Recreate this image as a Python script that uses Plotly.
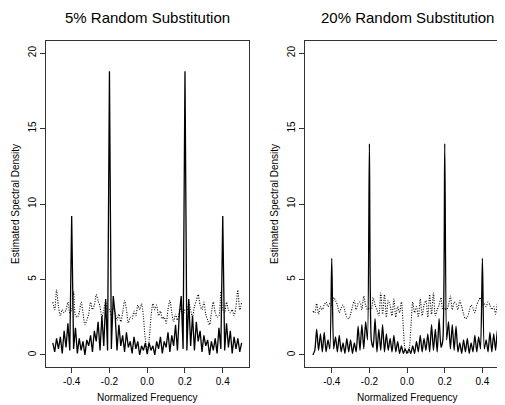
import plotly.graph_objects as go

# normalized frequency grid, -0.5 .. 0.5 in steps of 0.01
freq = [round(-0.5 + 0.01 * i, 2) for i in range(101)]

# 5% random substitution: solid and dotted spectra
sub5_solid = [
    0.8, 0.2, 1.1, 0.4, 1.2, 0.1, 1.6, 0.5, 2.1, 0.3,
    9.2, 0.4, 1.8, 0.1, 1.1, 0.3, 0.9, 0.0, 1.0, 0.6,
    1.3, 0.2, 1.6, 0.9, 2.2, 0.3, 2.6, 0.6, 3.7, 0.3,
    18.8, 0.4, 3.9, 2.7, 0.3, 2.0, 0.6, 1.3, 0.2, 1.5,
    0.5, 0.9, 0.1, 1.2, 0.4, 0.9, 0.0, 0.6, 0.3, 0.8,
    0.05,
    0.8, 0.3, 0.6, 0.0, 0.9, 0.4, 1.2, 0.1, 0.9, 0.5,
    1.5, 0.2, 1.3, 0.6, 2.0, 0.3, 2.7, 3.9, 0.4, 18.8,
    0.3, 3.7, 0.6, 2.6, 0.3, 2.2, 0.9, 1.6, 0.2, 1.3,
    0.6, 1.0, 0.0, 0.9, 0.3, 1.1, 0.1, 1.8, 0.4, 9.2,
    0.3, 2.1, 0.5, 1.6, 0.1, 1.2, 0.4, 1.1, 0.2, 0.8,
]
sub5_dotted = [
    3.5, 3.0, 4.3, 3.2, 2.6, 3.0, 2.8, 3.0, 3.5, 2.8,
    3.0, 4.2, 2.6, 2.5, 2.8, 3.5, 2.8, 2.0, 2.3, 2.7,
    3.5, 3.0, 3.3, 4.0, 3.6, 3.2, 2.5, 3.0, 3.5, 2.9,
    3.0, 2.6, 3.1, 2.8, 2.3, 2.7, 2.2, 2.8, 3.6, 3.0,
    2.1, 2.5, 2.4, 2.9, 2.6, 3.3, 3.0, 3.4, 2.5, 1.0,
    0.3,
    1.0, 2.5, 3.4, 3.0, 3.3, 2.6, 2.9, 2.4, 2.5, 2.1,
    3.0, 3.6, 2.8, 2.2, 2.7, 2.3, 2.8, 3.1, 2.6, 3.0,
    2.9, 3.5, 3.0, 2.5, 3.2, 3.6, 4.0, 3.3, 3.0, 3.5,
    2.7, 2.3, 2.0, 2.8, 3.5, 2.8, 2.5, 2.6, 4.2, 3.0,
    2.8, 3.5, 3.0, 2.8, 3.0, 2.6, 3.2, 4.3, 3.0, 3.5,
]

# 20% random substitution
sub20_solid = [
    0.0, 0.3, 1.7, 0.3, 1.4, 0.2, 1.5, 0.2, 1.0, 0.4,
    6.4, 0.4, 1.2, 0.2, 1.3, 0.2, 0.8, 0.1, 1.1, 0.2,
    1.0, 0.1, 0.8, 0.2, 1.9, 0.3, 2.0, 0.4, 2.2, 1.0,
    14.0, 1.0, 0.5, 2.4, 0.2, 1.7, 0.3, 2.0, 0.2, 1.4,
    0.3, 1.1, 0.2, 1.3, 0.2, 0.9, 0.1, 0.6, 0.1, 0.4,
    0.1,
    0.4, 0.1, 0.6, 0.1, 0.9, 0.2, 1.3, 0.2, 1.1, 0.3,
    1.4, 0.2, 2.0, 0.3, 1.7, 0.2, 2.4, 0.5, 1.0, 14.0,
    1.0, 2.2, 0.4, 2.0, 0.3, 1.9, 0.2, 0.8, 0.1, 1.0,
    0.2, 1.1, 0.1, 0.8, 0.2, 1.3, 0.2, 1.2, 0.4, 6.4,
    0.4, 1.0, 0.2, 1.5, 0.2, 1.4, 0.3, 1.7, 0.3, 0.0,
]
sub20_dotted = [
    2.9, 2.8, 3.4, 2.7, 3.2, 3.0, 3.3, 3.5, 3.2, 3.4,
    3.3, 3.8, 3.6, 3.3, 2.8, 3.1, 3.3, 2.9, 2.5, 2.4,
    2.7, 3.2, 3.6, 3.0, 3.4, 3.5, 3.0, 3.9, 3.3, 3.0,
    3.1, 3.0, 3.8, 3.3, 3.0, 2.6, 4.1, 2.7, 4.0, 2.5,
    3.6, 3.3, 2.6, 3.7, 2.5, 3.2, 2.8, 3.5, 1.8, 0.3,
    0.1,
    0.3, 1.8, 3.5, 2.8, 3.2, 2.5, 3.7, 2.6, 3.3, 3.6,
    2.5, 4.0, 2.7, 4.1, 2.6, 3.0, 3.3, 3.8, 3.0, 3.1,
    3.0, 3.3, 3.9, 3.0, 3.5, 3.4, 3.0, 3.6, 3.2, 2.7,
    2.4, 2.5, 2.9, 3.3, 3.1, 2.8, 3.3, 3.6, 3.8, 3.3,
    3.4, 3.2, 3.5, 3.3, 3.0, 3.2, 2.7, 3.4, 2.8, 2.9,
]

titles = ["5% Random Substitution", "20% Random Substitution"]
x_ticks = [-0.4, -0.2, 0.0, 0.2, 0.4]
x_tick_text = ["-0.4", "-0.2", "0.0", "0.2", "0.4"]
y_ticks = [0, 5, 10, 15, 20]

# the page body keeps its 8px margin, so the figure is laid out 8px in
OFF = 8
W, H = 505 - OFF, 405 - OFF
FONT = "Liberation Sans, Arial, Helvetica, sans-serif"

fig = go.Figure()

panels = [
    (sub5_solid, sub5_dotted, "x", "y", "linear"),
    (sub20_solid, sub20_dotted, "x2", "y2", "spline"),
]
for solid, dotted, xa, ya, shape in panels:
    fig.add_trace(go.Scatter(x=freq, y=dotted, mode="lines", xaxis=xa, yaxis=ya,
                             line=dict(color="black", width=1.1, dash="1px,1.5px",
                                       shape="spline", smoothing=0.8),
                             showlegend=False))
    fig.add_trace(go.Scatter(x=freq, y=solid, mode="lines", xaxis=xa, yaxis=ya,
                             line=dict(color="black", width=1.3, shape=shape, smoothing=0.6),
                             showlegend=False))

# plot boxes, in page pixels
box_l = (46 - OFF, 249 - OFF)
box_r = (305 - OFF, 505 - OFF)
box_top, box_bot = 41 - OFF, 367 - OFF

axis_common = dict(showline=True, linecolor="#333", linewidth=1, ticks="outside",
                   ticklen=5, tickcolor="#333", showgrid=False, zeroline=False,
                   tickfont=dict(size=10, family=FONT, color="black"))

fig.update_layout(
    width=W, height=H,
    margin=dict(l=0, r=0, t=0, b=0),
    plot_bgcolor="white", paper_bgcolor="white",
    xaxis=dict(domain=[box_l[0] / W, box_l[1] / W], range=[-0.536, 0.539],
               tickvals=x_ticks, ticktext=x_tick_text, mirror=True, anchor="y", **axis_common),
    yaxis=dict(domain=[(H - box_bot) / H, (H - box_top) / H], range=[-0.8, 20.8],
               tickvals=y_ticks, tickangle=-90, mirror=True, anchor="x", **axis_common),
    xaxis2=dict(domain=[box_r[0] / W, 1.0], range=[-0.542, 0.520],
                tickvals=x_ticks, ticktext=x_tick_text, mirror=True, anchor="y2", **axis_common),
    yaxis2=dict(domain=[(H - box_bot) / H, (H - box_top) / H], range=[-0.8, 20.8],
                tickvals=y_ticks, tickangle=-90, mirror=False, anchor="x2", **axis_common),
)

centers = [(box_l[0] + box_l[1]) / 2, 407 - OFF]
lefts = [box_l[0], box_r[0]]
for i in range(2):
    fig.add_annotation(x=centers[i] / W, y=1 - (17 - OFF) / H, xref="paper", yref="paper",
                       text=titles[i], showarrow=False, xanchor="center", yanchor="middle",
                       font=dict(size=15, family=FONT, color="black"))
    fig.add_annotation(x=centers[i] / W, y=1 - (397 - OFF) / H, xref="paper", yref="paper",
                       text="Normalized Frequency", showarrow=False, xanchor="center", yanchor="middle",
                       font=dict(size=10, family=FONT, color="black"))
    fig.add_annotation(x=(lefts[i] - 31) / W, y=1 - (204 - OFF) / H, xref="paper", yref="paper",
                       text="Estimated Spectral Density", showarrow=False, textangle=-90,
                       xanchor="center", yanchor="middle",
                       font=dict(size=10, family=FONT, color="black"))

fig.write_html("out.html")
